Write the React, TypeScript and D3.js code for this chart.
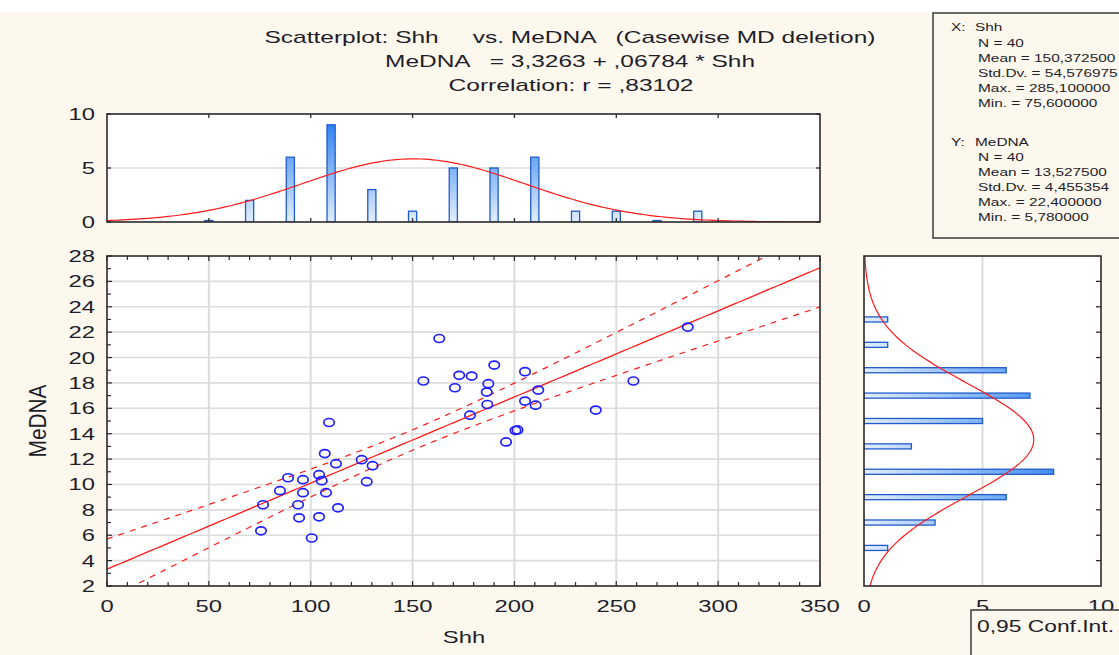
import React from 'react';
import * as d3 from 'd3';

// ---------- data ----------
const shh = [109.0, 106.9, 112.4, 125.0, 130.4, 127.5, 88.9, 96.2, 104.1, 105.4, 84.9, 96.2, 107.5, 76.6, 93.8, 113.4, 94.3, 104.1, 75.6, 100.5,
  163.1, 190.1, 155.3, 172.9, 179.0, 170.8, 187.2, 186.4, 186.7, 205.2, 211.7, 205.2, 210.4, 178.2, 200.5, 201.5, 195.9,
  285.1, 258.4, 239.9];
const medna = [14.88, 12.43, 11.64, 11.95, 11.48, 10.22, 10.53, 10.38, 10.77, 10.30, 9.51, 9.35, 9.35, 8.40, 8.40, 8.16, 7.37, 7.45, 6.35, 5.78,
  21.50, 19.41, 18.15, 18.60, 18.54, 17.62, 17.94, 17.28, 16.30, 18.89, 17.44, 16.57, 16.25, 15.46, 14.25, 14.30, 13.35,
  22.40, 18.15, 15.86];

const titleLines = [
  'Scatterplot: Shh     vs. MeDNA   (Casewise MD deletion)',
  'MeDNA   = 3,3263 + ,06784 * Shh',
  'Correlation: r = ,83102',
];
const statsX = ['N = 40', 'Mean = 150,372500', 'Std.Dv. = 54,576975', 'Max. = 285,100000', 'Min. = 75,600000'];
const statsY = ['N = 40', 'Mean = 13,527500', 'Std.Dv. = 4,455354', 'Max. = 22,400000', 'Min. = 5,780000'];
const xTicks = [0, 50, 100, 150, 200, 250, 300, 350];
const yTicks = [2, 4, 6, 8, 10, 12, 14, 16, 18, 20, 22, 24, 26, 28];
const histCountTicks = [0, 5, 10];

// regression / summary statistics as printed in the chart
const N = 40;
const intercept = 3.3263;
const slope = 0.06784;
const r = 0.83102;
const meanX = 150.3725;
const sdX = 54.576975;
const meanY = 13.5275;
const sdY = 4.455354;
const tCrit = 2.0244;

// ---------- layout ----------
const W = 1119, H = 655;
const SX = 1.4; // horizontal glyph stretch of original rendering
const FONT = 'Liberation Sans, Arial, sans-serif';
const TXT = '#1e1e2a';

const x = d3.scaleLinear().domain([0, 350]).range([107, 820]);
const y = d3.scaleLinear().domain([2, 28]).range([586, 256]);
const yh = d3.scaleLinear().domain([0, 10]).range([222, 114]);
const xr = d3.scaleLinear().domain([0, 10]).range([864, 1101]);

function T({ x: tx, y: ty, anchor = 'start', size = 17, children, rotate = 0, len }: any) {
  return (
    <text
      transform={`translate(${tx},${ty}) scale(${SX},1)${rotate ? ` rotate(${rotate})` : ''}`}
      textAnchor={anchor}
      fontSize={size}
      fill={TXT}
      fontFamily={FONT}
      style={{ whiteSpace: 'pre' }}
      textLength={len}
      lengthAdjust={len ? 'spacingAndGlyphs' : undefined}
    >
      {children}
    </text>
  );
}

const pdf = (v: number, m: number, s: number) => Math.exp(-0.5 * ((v - m) / s) ** 2) / (s * Math.sqrt(2 * Math.PI));

export default function App() {
  // histograms
  const xBins = d3.bin().domain([0, 360]).thresholds(d3.range(0, 361, 20))(shh)
    .filter((b: any) => b.x0 >= 40 && b.x1 <= 300);
  const yBins = d3.bin().domain([2, 28]).thresholds(d3.range(2, 29, 2))(medna);

  // regression line and 95% confidence band
  const se = sdY * Math.sqrt((1 - r * r) * (N - 1) / (N - 2));
  const sxx = (N - 1) * sdX * sdX;
  const xs = d3.range(0, 350.01, 2);
  const band = xs.map(v => {
    const fit = intercept + slope * v;
    const h = tCrit * se * Math.sqrt(1 / N + (v - meanX) ** 2 / sxx);
    return { v, fit, lo: fit - h, hi: fit + h };
  });
  const lineOf = (key: 'fit' | 'lo' | 'hi') => d3.line<any>().x(d => x(d.v)).y(d => y(d[key]))(band) as string;

  // normal curves
  const topCurve = d3.line<number>().x(v => x(v)).y(v => yh(N * 20 * pdf(v, meanX, sdX)))(d3.range(0, 350.01, 2)) as string;
  const rightCurve = d3.line<number>().x(v => xr(N * 2 * pdf(v, meanY, sdY))).y(v => y(v))(d3.range(2, 28.01, 0.2)) as string;

  const minorX = d3.range(0, 351, 10);
  const minorY = d3.range(2, 28.01, 1);

  return (
    <svg width={W} height={H} style={{ position: 'absolute', left: 0, top: 0 }} xmlns="http://www.w3.org/2000/svg">
      <defs>
        <clipPath id="clipS"><rect x={107} y={256} width={713} height={330} /></clipPath>
        <clipPath id="clipT"><rect x={107} y={114} width={713} height={108} /></clipPath>
        <clipPath id="clipR"><rect x={864} y={256} width={237} height={330} /></clipPath>
        <linearGradient id="gTop" gradientUnits="userSpaceOnUse" x1="0" y1={yh(0)} x2="0" y2={yh(10)}>
          <stop offset="0" stopColor="#e3eefc" />
          <stop offset="1" stopColor="#1b78ee" />
        </linearGradient>
        <linearGradient id="gRight" gradientUnits="userSpaceOnUse" x1={xr(0)} y1="0" x2={xr(10)} y2="0">
          <stop offset="0" stopColor="#e3eefc" />
          <stop offset="1" stopColor="#1b78ee" />
        </linearGradient>
      </defs>

      {/* background */}
      <rect x={0} y={0} width={W} height={H} fill="#fdf8ee" />
      <rect x={0} y={0} width={W} height={12} fill="#ffffff" />

      {/* titles */}
      <T x={570} y={42.5} anchor="middle" len={611 / SX}>{titleLines[0]}</T>
      <T x={570} y={66.5} anchor="middle" len={370 / SX}>{titleLines[1]}</T>
      <T x={571} y={91} anchor="middle" len={245 / SX}>{titleLines[2]}</T>

      {/* stats box */}
      <rect x={933} y={13} width={200} height={225} fill="#fdf8ee" stroke="#3a3a3a" strokeWidth={1.5} />
      <T x={951} y={30.5} size={11}>X:</T>
      <T x={975} y={30.5} size={11}>Shh</T>
      {statsX.map((s, i) => <T key={'sx' + i} x={978} y={46.5 + i * 15.1} size={11}>{s}</T>)}
      <T x={951} y={146} size={11}>Y:</T>
      <T x={975} y={146} size={11}>MeDNA</T>
      {statsY.map((s, i) => <T key={'sy' + i} x={978} y={161 + i * 15.1} size={11}>{s}</T>)}

      {/* ---------- top histogram ---------- */}
      <rect x={107} y={114} width={713} height={108} fill="#ffffff" />
      <line x1={107} x2={820} y1={yh(5)} y2={yh(5)} stroke="#dedede" strokeWidth={1.5} />
      <g clipPath="url(#clipT)">
        {xBins.map((b: any, i: number) => {
          const bw = (x(b.x1) - x(b.x0)) * 0.2;
          const cx = x((b.x0 + b.x1) / 2);
          const hgt = Math.max(yh(0) - yh(b.length), 1.5);
          return <rect key={'tb' + i} x={cx - bw / 2} y={yh(0) - hgt} width={bw} height={hgt}
            fill="url(#gTop)" stroke="#1f5bcc" strokeWidth={1.3} />;
        })}
        <path d={topCurve} fill="none" stroke="#ff1a1a" strokeWidth={1.2} />
      </g>
      <rect x={107} y={114} width={713} height={108} fill="none" stroke="#2a2a2a" strokeWidth={1.6} />
      {xTicks.slice(1, -1).map(v => (
        <g key={'tt' + v}>
          <line x1={x(v)} x2={x(v)} y1={114} y2={118} stroke="#2a2a2a" strokeWidth={1.3} />
          <line x1={x(v)} x2={x(v)} y1={222} y2={218} stroke="#2a2a2a" strokeWidth={1.3} />
        </g>
      ))}
      {histCountTicks.map(v => (
        <g key={'ht' + v}>
          <line x1={107} x2={111} y1={yh(v)} y2={yh(v)} stroke="#2a2a2a" strokeWidth={1.3} />
          <line x1={820} x2={816} y1={yh(v)} y2={yh(v)} stroke="#2a2a2a" strokeWidth={1.3} />
          <T x={95} y={yh(v) + 6} anchor="end">{String(v)}</T>
        </g>
      ))}

      {/* ---------- scatter ---------- */}
      <rect x={107} y={256} width={713} height={330} fill="#ffffff" />
      {xTicks.slice(1, -1).map(v => (
        <line key={'gx' + v} x1={x(v)} x2={x(v)} y1={256} y2={586} stroke="#dcdcdc" strokeWidth={2} />
      ))}
      {yTicks.slice(1, -1).map(v => (
        <line key={'gy' + v} x1={107} x2={820} y1={y(v)} y2={y(v)} stroke="#dcdcdc" strokeWidth={1.6} />
      ))}
      <g clipPath="url(#clipS)">
        <path d={lineOf('hi')} fill="none" stroke="#ff1a1a" strokeWidth={1.2} strokeDasharray="6,6" />
        <path d={lineOf('lo')} fill="none" stroke="#ff1a1a" strokeWidth={1.2} strokeDasharray="6,6" />
        <path d={lineOf('fit')} fill="none" stroke="#ff1a1a" strokeWidth={1.3} />
        {shh.map((v, i) => (
          <ellipse key={'p' + i} cx={x(v)} cy={y(medna[i])} rx={5.2} ry={4} fill="none" stroke="#1f1fff" strokeWidth={1.7} />
        ))}
      </g>
      <rect x={107} y={256} width={713} height={330} fill="none" stroke="#2a2a2a" strokeWidth={1.6} />
      {minorX.map(v => (
        <g key={'mx' + v}>
          <line x1={x(v)} x2={x(v)} y1={586} y2={v % 50 === 0 ? 581 : 582} stroke="#2a2a2a" strokeWidth={1.2} />
          <line x1={x(v)} x2={x(v)} y1={256} y2={v % 50 === 0 ? 261 : 260} stroke="#2a2a2a" strokeWidth={1.2} />
        </g>
      ))}
      {minorY.map(v => (
        <line key={'my' + v} x1={107} x2={v % 2 === 0 ? 112 : 111} y1={y(v)} y2={y(v)} stroke="#2a2a2a" strokeWidth={1.2} />
      ))}
      {xTicks.map(v => <T key={'xl' + v} x={x(v)} y={612} anchor="middle">{String(v)}</T>)}
      {yTicks.map(v => <T key={'yl' + v} x={95} y={y(v) + 6} anchor="end">{String(v)}</T>)}
      <T x={464} y={643} anchor="middle">Shh</T>
      <T x={46} y={421} anchor="middle" rotate={-90} len={73}>MeDNA</T>

      {/* ---------- right histogram ---------- */}
      <rect x={864} y={256} width={237} height={330} fill="#ffffff" />
      <line x1={xr(5)} x2={xr(5)} y1={256} y2={586} stroke="#dcdcdc" strokeWidth={2} />
      <g clipPath="url(#clipR)">
        {yBins.map((b: any, i: number) => {
          const bh = (y(b.x0) - y(b.x1)) * 0.2;
          const cy = y((b.x0 + b.x1) / 2);
          return b.length > 0 ? <rect key={'rb' + i} x={xr(0)} y={cy - bh / 2} width={xr(b.length) - xr(0)} height={bh}
            fill="url(#gRight)" stroke="#1f5bcc" strokeWidth={1.3} /> : null;
        })}
        <path d={rightCurve} fill="none" stroke="#ff1a1a" strokeWidth={1.2} />
      </g>
      <rect x={864} y={256} width={237} height={330} fill="none" stroke="#2a2a2a" strokeWidth={1.6} />
      {d3.range(4, 28, 2).map(v => (
        <line key={'rt' + v} x1={1101} x2={1096} y1={y(v) - 0} y2={y(v)} stroke="#2a2a2a" strokeWidth={1.3} />
      ))}
      {[0, 5, 10].map(v => <T key={'rl' + v} x={xr(v)} y={612} anchor="middle">{String(v)}</T>)}

      {/* conf. int. legend box */}
      <rect x={971} y={610} width={200} height={60} fill="#fdf8ee" stroke="#3a3a3a" strokeWidth={1.5} />
      <T x={977} y={632} len={(1114 - 977) / SX}>0,95 Conf.Int.</T>
    </svg>
  );
}
